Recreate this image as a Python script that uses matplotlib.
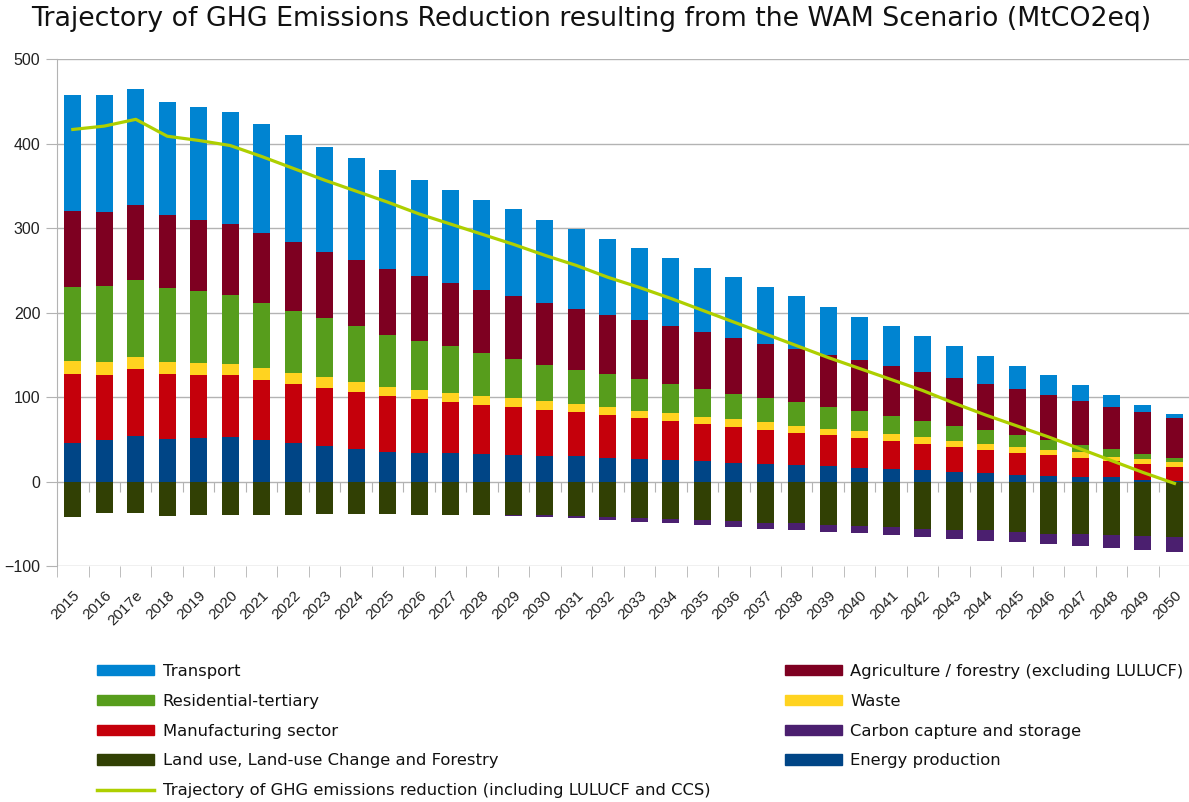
import numpy as np
import matplotlib
matplotlib.use("Agg")
import matplotlib.pyplot as plt
from matplotlib.patches import Patch
from matplotlib.lines import Line2D

plt.rcParams['font.family'] = ['Liberation Sans', 'DejaVu Sans']

# data (MtCO2eq)
years = ['2015', '2016', '2017e', '2018', '2019', '2020', '2021', '2022', '2023', '2024',
         '2025', '2026', '2027', '2028', '2029', '2030', '2031', '2032', '2033', '2034',
         '2035', '2036', '2037', '2038', '2039', '2040', '2041', '2042', '2043', '2044',
         '2045', '2046', '2047', '2048', '2049', '2050']

energy = [45.3, 49.2, 54.0, 50.0, 51.6, 52.4, 49.2, 45.3, 42.2, 38.6,
          35.4, 33.9, 33.9, 33.1, 31.9, 30.7, 30.0, 28.3, 26.5, 25.6,
          24.1, 21.7, 20.9, 19.7, 18.9, 16.5, 15.0, 14.2, 11.8, 10.3,
          8.3, 7.1, 5.9, 5.2, 2.4, 1.2]
manufacturing = [82.3, 76.8, 79.1, 77.6, 74.4, 73.6, 71.3, 70.9, 69.3, 67.3,
                 65.8, 64.1, 60.6, 57.8, 56.7, 54.8, 52.0, 50.5, 48.7, 46.1,
                 44.0, 43.3, 40.5, 38.3, 35.9, 35.1, 33.0, 30.3, 29.2, 27.5,
                 26.0, 24.1, 21.7, 19.2, 18.1, 16.2]
waste = [15.8, 16.2, 14.6, 14.6, 15.0, 13.8, 13.8, 12.2, 12.5, 12.7,
         11.3, 11.1, 11.1, 11.1, 10.3, 9.8, 10.1, 9.8, 9.1, 9.1,
         9.1, 8.7, 9.1, 8.0, 7.8, 7.9, 8.0, 7.9, 7.0, 6.7,
         7.0, 6.6, 7.1, 5.2, 6.0, 5.9]
residential = [87.4, 89.8, 91.3, 87.4, 84.2, 80.7, 76.7, 74.0, 69.3, 65.6,
               61.6, 57.9, 54.7, 50.4, 46.4, 43.4, 40.7, 38.6, 37.4, 34.9,
               33.1, 30.7, 28.4, 28.3, 26.0, 24.0, 21.6, 19.3, 17.8, 16.2,
               13.5, 11.4, 8.6, 9.4, 6.6, 4.3]
agriculture = [89.7, 87.3, 88.2, 86.6, 85.1, 84.2, 83.5, 81.9, 79.2, 78.5,
               78.3, 76.3, 74.7, 74.8, 74.0, 72.3, 71.5, 70.5, 70.1, 68.2,
               67.3, 66.1, 64.5, 62.4, 61.8, 60.2, 59.4, 58.3, 57.0, 55.5,
               54.7, 53.2, 52.4, 50.0, 48.9, 47.6]
transport = [137.4, 138.7, 138.2, 133.4, 133.7, 132.7, 129.1, 125.6, 124.0, 120.3,
             116.9, 113.4, 110.3, 106.7, 103.1, 98.9, 95.3, 89.8, 85.4, 81.1,
             76.0, 71.6, 67.4, 62.6, 56.3, 51.6, 46.9, 42.9, 37.5, 32.6,
             28.0, 23.6, 19.3, 14.2, 9.4, 4.8]
lulucf = [-41.3, -37.4, -37.4, -40.5, -39.3, -39.3, -39.3, -39.3, -38.2, -38.2,
          -38.2, -39.3, -39.3, -39.3, -39.5, -39.3, -40.0, -42.1, -42.5, -43.7,
          -44.9, -46.4, -48.8, -49.2, -50.8, -52.0, -53.1, -55.5, -56.7, -57.4,
          -59.0, -61.4, -62.1, -63.3, -64.5, -65.7]
ccs = [0, 0, 0, 0, 0, 0, 0, 0, 0, 0,
       0, 0, 0, 0, -1.0, -2.4, -2.7, -3.1, -4.7, -4.7,
       -5.9, -6.7, -6.7, -8.2, -8.6, -9.0, -9.9, -9.8, -11.0, -12.3,
       -12.2, -11.8, -13.5, -14.6, -15.8, -17.0]
trajectory = [417, 421, 429, 409, 404, 398, 385, 371, 357, 344,
              331, 317, 305, 293, 281, 268, 256, 242, 230, 217,
              203, 189, 175, 161, 147, 134, 121, 108, 93, 79,
              66, 53, 39, 25, 11, -2]

colors = {
    'Transport': '#0084d1',
    'Agriculture / forestry (excluding LULUCF)': '#7e0021',
    'Residential-tertiary': '#579d1c',
    'Waste': '#ffd320',
    'Manufacturing sector': '#c5000b',
    'Carbon capture and storage': '#4b1f6f',
    'Land use, Land-use Change and Forestry': '#314004',
    'Energy production': '#004586',
}
line_color = '#aecf00'
grid_color = '#b3b3b3'

x = np.arange(len(years))
w = 0.54

fig = plt.figure(figsize=(11.89, 8.02), dpi=100)
ax = fig.add_axes([0.048, 0.294, 1.001 - 0.048, 0.926 - 0.294])

# positive stack, bottom to top
pos = [('Energy production', energy), ('Manufacturing sector', manufacturing),
       ('Waste', waste), ('Residential-tertiary', residential),
       ('Agriculture / forestry (excluding LULUCF)', agriculture), ('Transport', transport)]
bottom = np.zeros(len(years))
for name, vals in pos:
    vals = np.array(vals)
    ax.bar(x, vals, w, bottom=bottom, color=colors[name], linewidth=0, zorder=3)
    bottom += vals

# negative stack
neg = [('Land use, Land-use Change and Forestry', lulucf), ('Carbon capture and storage', ccs)]
nbottom = np.zeros(len(years))
for name, vals in neg:
    vals = np.array(vals)
    ax.bar(x, vals, w, bottom=nbottom, color=colors[name], linewidth=0, zorder=3)
    nbottom += vals

ax.plot(x, trajectory, color=line_color, lw=2.3, zorder=4)

ax.set_xlim(-0.5, len(years) - 0.5)
ax.set_ylim(-100, 500)
ax.set_yticks(np.arange(-100, 501, 100))
ax.yaxis.grid(True, color=grid_color, lw=1)
ax.set_axisbelow(True)
for s in ['top', 'right', 'bottom']:
    ax.spines[s].set_visible(False)
ax.spines['left'].set_color(grid_color)
ax.tick_params(axis='y', length=8, color=grid_color, labelsize=11.5, labelcolor='#222222', pad=4)

ax.set_xticks(x)
ax.set_xticklabels(years, rotation=45, ha='right', rotation_mode='anchor')
ax.set_xticks(np.arange(-0.5, len(years), 1), minor=True)
ax.tick_params(axis='x', which='major', length=0, pad=16, labelsize=11, labelcolor='#222222')
ax.tick_params(axis='x', which='minor', length=8, color=grid_color)

# tick marks along the zero line
sec = ax.secondary_xaxis(1 / 6)
sec.set_xticks(np.arange(0.5, len(years) - 1, 1))
sec.set_xticklabels([])
sec.tick_params(length=7, color=grid_color)
for s in sec.spines.values():
    s.set_visible(False)

fig.text(0.497, 0.976, 'Trajectory of GHG Emissions Reduction resulting from the WAM Scenario (MtCO2eq)',
         ha='center', va='center', fontsize=19.3, color='#111111', family='DejaVu Sans')

left_items = ['Transport', 'Residential-tertiary', 'Manufacturing sector',
              'Land use, Land-use Change and Forestry']
right_items = ['Agriculture / forestry (excluding LULUCF)', 'Waste',
               'Carbon capture and storage', 'Energy production']
h1 = [Patch(color=colors[n]) for n in left_items]
h1.append(Line2D([], [], color=line_color, lw=2.5))
l1 = left_items + ['Trajectory of GHG emissions reduction (including LULUCF and CCS)']
h2 = [Patch(color=colors[n]) for n in right_items]

kw = dict(frameon=False, prop={'family': 'DejaVu Sans', 'size': 11.8},
          handlelength=3.5, handleheight=0.6,
          handletextpad=0.5, labelspacing=0.9, borderpad=0, borderaxespad=0,
          loc='upper left', labelcolor='#111111')
fig.legend(h1, l1, bbox_to_anchor=(0.0816, 0.172), **kw)
fig.legend(h2, right_items, bbox_to_anchor=(0.66, 0.172), **kw)

fig.savefig('out.png', dpi=100)
